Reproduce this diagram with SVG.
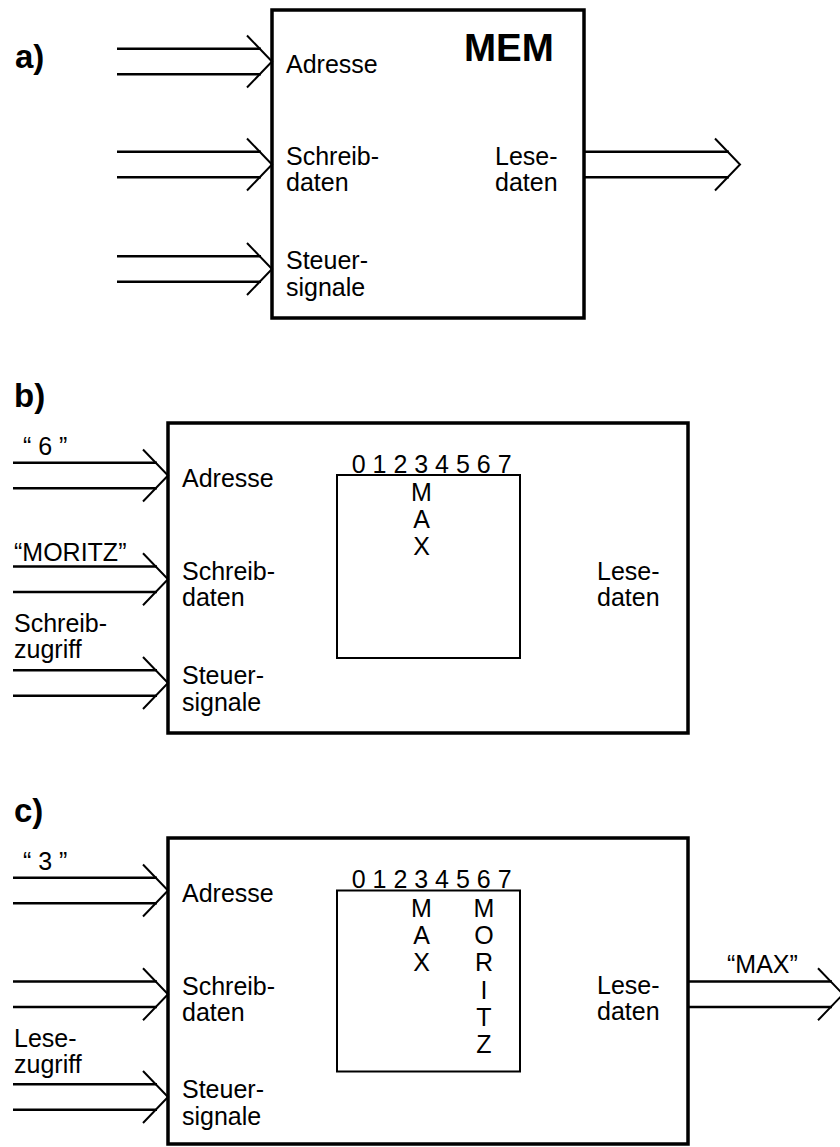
<svg xmlns="http://www.w3.org/2000/svg" width="840" height="1147" viewBox="0 0 840 1147">
<defs>
<style>
text{font-family:"Liberation Sans",Arial,sans-serif;font-size:25px;fill:#000}
.bold{font-weight:bold}
.box{fill:#fff;stroke:#000;stroke-width:3.5}
.mem{fill:none;stroke:#000;stroke-width:2}
.ln{stroke:#000;stroke-width:2.5;fill:none}
.ch{stroke:#000;stroke-width:2;fill:none}
.mid{text-anchor:middle}
</style>
</defs>
<rect width="840" height="1147" fill="#fff"/>

<!-- Panel a -->
<text class="bold" x="15" y="68" style="font-size:33px">a)</text>
<g id="memA">
<rect class="box" x="272" y="10" width="312" height="308"/>
<text class="bold" x="464" y="61" style="font-size:38.5px">MEM</text>
<text x="286" y="73">Adresse</text>
<text x="286" y="165">Schreib-</text>
<text x="286" y="191">daten</text>
<text x="286" y="269">Steuer-</text>
<text x="286" y="296">signale</text>
<text x="495" y="165">Lese-</text>
<text x="495" y="191">daten</text>
</g>

<!-- Panel b -->
<text class="bold" x="14" y="407" style="font-size:33px">b)</text>
<g id="memB">
<rect class="box" x="168" y="423" width="520" height="310"/>
<text x="182" y="487">Adresse</text>
<text x="182" y="580">Schreib-</text>
<text x="182" y="606">daten</text>
<text x="182" y="684">Steuer-</text>
<text x="182" y="711">signale</text>
<text x="597" y="580">Lese-</text>
<text x="597" y="606">daten</text>
<g id="storeB">
<rect class="mem" x="337" y="475" width="183" height="183"/>
<text x="351.7" y="473">0 1 2 3 4 5 6 7</text>
<text class="mid" x="421.5" y="501">M</text>
<text class="mid" x="421.5" y="528">A</text>
<text class="mid" x="421.5" y="555">X</text>
</g>
</g>
<text x="23" y="455">“ 6 ”</text>
<text x="14" y="561">“MORITZ”</text>
<text x="14" y="632">Schreib-</text>
<text x="14" y="658">zugriff</text>

<!-- Panel c -->
<text class="bold" x="14" y="822" style="font-size:33px">c)</text>
<g id="memC">
<rect class="box" x="168" y="838" width="520" height="306"/>
<text x="182" y="902">Adresse</text>
<text x="182" y="995">Schreib-</text>
<text x="182" y="1021">daten</text>
<text x="182" y="1098">Steuer-</text>
<text x="182" y="1125">signale</text>
<text x="597" y="994">Lese-</text>
<text x="597" y="1020">daten</text>
<g id="storeC">
<rect class="mem" x="337" y="890.5" width="183" height="181"/>
<text x="351.7" y="888">0 1 2 3 4 5 6 7</text>
<text class="mid" x="421.5" y="917">M</text>
<text class="mid" x="421.5" y="944">A</text>
<text class="mid" x="421.5" y="971">X</text>
<text class="mid" x="484" y="917">M</text>
<text class="mid" x="484" y="944">O</text>
<text class="mid" x="484" y="971">R</text>
<text class="mid" x="484" y="999">I</text>
<text class="mid" x="484" y="1026">T</text>
<text class="mid" x="484" y="1053">Z</text>
</g>
</g>
<text x="23" y="870">“ 3 ”</text>
<text x="14" y="1047">Lese-</text>
<text x="14" y="1073">zugriff</text>
<text x="727" y="973">“MAX”</text>

<g id="connectors">
<!-- a inputs -->
<path class="ln" d="M117 48.7H261M117 74.3H261"/>
<path class="ch" d="M247 35.5L272 61.5L247 87.5"/>
<path class="ln" d="M117 151.7H261M117 177.3H261"/>
<path class="ch" d="M247 138.5L272 164.5L247 190.5"/>
<path class="ln" d="M117 256.2H261M117 281.8H261"/>
<path class="ch" d="M247 243L272 269L247 295"/>
<!-- a output -->
<path class="ln" d="M584 151.7H729M584 177.3H729"/>
<path class="ch" d="M715 138.5L740 164.5L715 190.5"/>
<!-- b inputs -->
<path class="ln" d="M13 462.7H157M13 488.3H157"/>
<path class="ch" d="M143 449.5L168 475.5L143 501.5"/>
<path class="ln" d="M13 566.5H157M13 592.1H157"/>
<path class="ch" d="M143 553.3L168 579.3L143 605.3"/>
<path class="ln" d="M13 670.2H157M13 695.8H157"/>
<path class="ch" d="M143 657L168 683L143 709"/>
<!-- c inputs -->
<path class="ln" d="M13 877.7H157M13 903.3H157"/>
<path class="ch" d="M143 864.5L168 890.5L143 916.5"/>
<path class="ln" d="M13 981.5H157M13 1007.1H157"/>
<path class="ch" d="M143 968.3L168 994.3L143 1020.3"/>
<path class="ln" d="M13 1084.2H157M13 1109.8H157"/>
<path class="ch" d="M143 1071L168 1097L143 1123"/>
<!-- c output -->
<path class="ln" d="M688 981.5H832M688 1007.1H832"/>
<path class="ch" d="M818 968.3L843 994.3L818 1020.3"/>
</g>
</svg>
